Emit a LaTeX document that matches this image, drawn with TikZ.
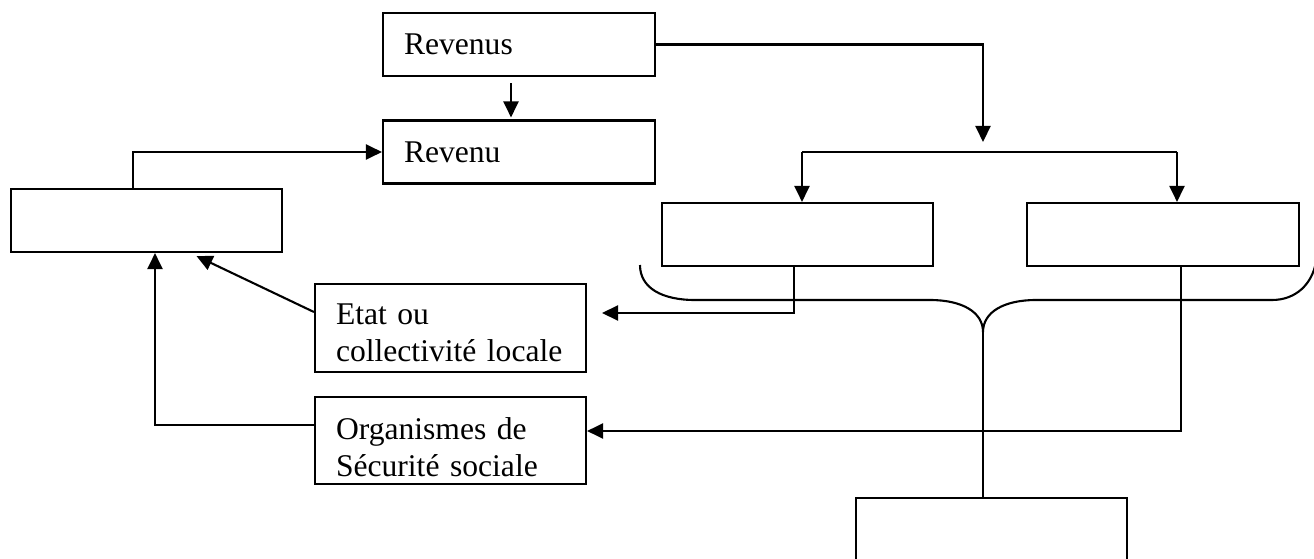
\documentclass[tikz,border=0pt]{standalone}
\usepackage{fontspec}
\setmainfont{Liberation Serif}
\usetikzlibrary{arrows.meta}
\tikzset{
  box/.style={draw, line width=2.1pt, rectangle, inner xsep=21pt, inner ysep=0pt,
    text width=#1-42pt, minimum width=#1, align=left, minimum height=63pt,
    font=\fontsize{31.6}{37}\selectfont},
  box/.default=272pt,
  conn/.style={line width=2.1pt},
  arr/.style={line width=2.1pt, -{Triangle[length=16pt,width=15pt]}},
}
\begin{document}
\begin{tikzpicture}[x=1pt,y=-1pt]
\useasboundingbox (0,0) rectangle (1314,559);
\clip (0,0) rectangle (1314,559);
% boxes
\node[box] (revs) at (519,44.5) {Revenus};
\node[box] (rev) at (519,152) {Revenu};
\node[box=271pt] (lb) at (146.5,220.5) {};
\node[box=271pt] (m1) at (797.5,234.5) {};
\node[box=272pt] (m2) at (1163,234.5) {};
\node[box=271pt, minimum height=88pt] (etat) at (450.5,328)
  {\raisebox{-5pt}[\height][\depth]{\parbox[c]{229pt}{Etat ou\\collectivité locale}}};
\node[box=271pt, minimum height=87pt] (org) at (450.5,440.5)
  {\raisebox{-7pt}[\height][\depth]{\parbox[c]{229pt}{Organismes de\\Sécurité sociale}}};
\node[box=271pt, minimum height=95pt] (bot) at (991.5,545.5) {};
% free ends
\coordinate (t1) at (983,142);
\coordinate (s1) at (802,152);
\coordinate (s2) at (1177,152);
\coordinate (e1) at (602,313);
\coordinate (cusp) at (983,332);
% connectors
\draw[arr] (revs.east) -| (t1);
\draw[arr] ([xshift=-8pt,yshift=-6pt]revs.south) -- ([xshift=-8pt,yshift=2pt]rev.north);
\draw[conn] (s1) -- (s2);
\draw[arr] (s1) -- (s1 |- m1.north);
\draw[arr] (s2) -- (s2 |- m2.north);
\draw[arr] (lb.north west) ++(123,0) |- (rev.west);
\draw[arr] (m1.south west) ++(133,0) |- (e1);
\draw[arr] (m2.south west) ++(155,0) |- ([yshift=9.5pt]org.east);
\draw[arr] ([yshift=15.5pt]org.west) -| ([xshift=8.5pt]lb.south);
\draw[arr] ([yshift=16pt]etat.west) -- ([xshift=50pt,yshift=-3pt]lb.south);
% brace
\draw[conn] (640,265) .. controls (640,288) and (662,300) .. (695,300)
  -- (930,300) .. controls (962,300) and (983,312) .. (cusp)
  .. controls (983,312) and (1004,300) .. (1036,300)
  -- (1272,300) .. controls (1296,300) and (1312,284) .. (1316,262);
\draw[conn] (cusp) -- (cusp |- bot.north);
\end{tikzpicture}
\end{document}
